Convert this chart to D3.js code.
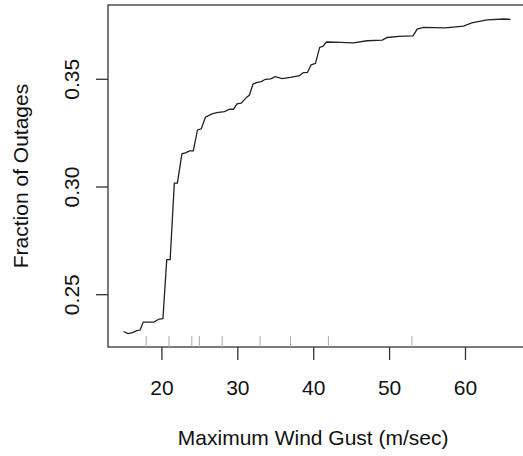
<!DOCTYPE html>
<html><head><meta charset="utf-8">
<script src="https://cdn.jsdelivr.net/npm/d3@7"></script>
<style>body{margin:0;background:#fff}svg{display:block}text{font-family:"Liberation Sans",Arial,sans-serif;fill:#111}</style>
</head><body><svg id="c" width="523" height="456"></svg>
<script>
const gust = [15.0,15.6,16.2,16.75,17.2,17.6,19.0,19.7,20.2,20.7,21.15,21.7,22.1,22.7,23.25,23.7,24.2,24.75,25.25,25.8,26.65,27.3,28.3,29.0,29.5,29.95,30.5,31.25,31.6,32.05,32.6,33.15,33.7,34.4,35.0,35.9,37.0,38.2,38.7,39.25,39.7,40.3,40.85,41.3,41.75,43.6,45.3,47.1,49.1,49.75,51.3,53.15,53.7,54.55,57.4,59.8,60.9,62.9,65.1,66.0];
const fraction = [0.2329,0.2319,0.2324,0.2333,0.2336,0.2373,0.2373,0.2387,0.2389,0.2663,0.2663,0.3018,0.3018,0.3154,0.3160,0.3168,0.3168,0.3265,0.3270,0.3324,0.3339,0.3345,0.3350,0.3361,0.3361,0.3386,0.3389,0.3417,0.3427,0.3477,0.3486,0.3489,0.3500,0.3502,0.3512,0.3503,0.3509,0.3517,0.3531,0.3532,0.3566,0.3574,0.3648,0.3654,0.3673,0.3671,0.3669,0.3679,0.3682,0.3694,0.3699,0.3702,0.3733,0.3741,0.3739,0.3747,0.3762,0.3776,0.3780,0.3778];
const rugDeciles = [18,21,24,25,28,33,37,42,53];
const xTicks = [20,30,40,50,60];
const yTicks = [0.25,0.30,0.35];
const xLabel = "Maximum Wind Gust (m/sec)";
const yLabel = "Fraction of Outages";

const svg = d3.select("#c");
const L=108, T=5, R=526, B=347;
const x = d3.scaleLinear().domain([12.96,68.04]).range([L,R]);
const y = d3.scaleLinear().domain([0.22572,0.38449]).range([B,T]);

// box
svg.append("rect").attr("x",L).attr("y",T).attr("width",R-L).attr("height",B-T)
  .attr("fill","none").attr("stroke","#333").attr("stroke-width",1.3);

// x axis
const xa = svg.append("g").attr("transform",`translate(0,${B})`)
  .call(d3.axisBottom(x).tickValues(xTicks).tickSize(13).tickPadding(20).tickFormat(d3.format("d")));
xa.select(".domain").remove();
xa.selectAll("line").attr("stroke","#333").attr("stroke-width",1.3);
xa.selectAll("text").attr("font-size",21).attr("fill","#111");

// y axis
const ya = svg.append("g").attr("transform",`translate(${L},0)`)
  .call(d3.axisLeft(y).tickValues(yTicks).tickSize(12).tickFormat(d3.format(".2f")));
ya.select(".domain").remove();
ya.selectAll("line").attr("stroke","#333").attr("stroke-width",1.3);
ya.selectAll("text").attr("font-size",21).attr("fill","#111")
  .attr("text-anchor","middle").attr("dy",null).attr("x",null)
  .attr("transform",d=>`translate(-29,${y(d)}) rotate(-90) translate(0,0)`).attr("y",0)
  .each(function(d){ d3.select(this.parentNode).attr("transform",`translate(0,0)`); });
ya.selectAll(".tick").each(function(d){
  d3.select(this).select("line").attr("transform",`translate(0,${y(d)})`);
});
ya.selectAll("text").attr("transform",d=>`translate(-29,${y(d)}) rotate(-90)`);

// rug
svg.append("g").selectAll("line").data(rugDeciles).join("line")
  .attr("x1",d=>x(d)).attr("x2",d=>x(d)).attr("y1",B-11).attr("y2",B)
  .attr("stroke","#aaa").attr("stroke-width",1);

// curve
const pts = gust.map((g,i)=>[g,fraction[i]]);
svg.append("path").datum(pts)
  .attr("d",d3.line().x(d=>x(d[0])).y(d=>y(d[1])))
  .attr("fill","none").attr("stroke","#222").attr("stroke-width",1.3);

// labels
svg.append("text").attr("x",(x(20)+x(60))/2+0).attr("y",445).attr("text-anchor","middle")
  .attr("font-size",21).text(xLabel);
svg.append("text").attr("transform",`translate(28,${(T+B)/2}) rotate(-90)`).attr("text-anchor","middle")
  .attr("font-size",21).text(yLabel);
</script></body></html>
